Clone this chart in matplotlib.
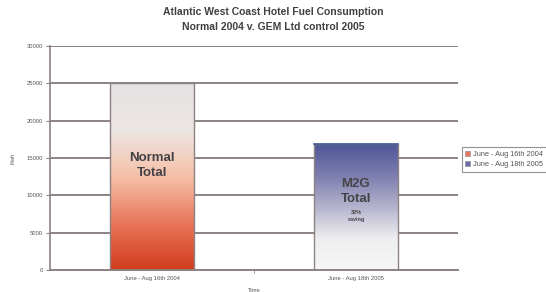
import numpy as np
import matplotlib
matplotlib.use("Agg")
import matplotlib.pyplot as plt
from matplotlib.colors import LinearSegmentedColormap
from matplotlib.patches import Patch

plt.rcParams["font.family"] = ["Liberation Sans", "DejaVu Sans"]

# data
periods = ["June - Aug 16th 2004", "June - Aug 18th 2005"]
fuel_use = [25000, 16900]
bar_titles = ["Normal\nTotal", "M2G\nTotal"]
bar_notes = ["", "32%\nsaving"]
yticks = [0, 5000, 10000, 15000, 20000, 25000, 30000]

grid_col = "#8c8282"
cmaps = [
    LinearSegmentedColormap.from_list("red", ["#d23c1c", "#e8765a", "#f6c0a8", "#ece6e4", "#e4e2e2"]),
    LinearSegmentedColormap.from_list("blue", ["#f6f6f6", "#eeeef0", "#b4b2cc", "#7c7cae", "#4c5696"]),
]
title_pos = [0.56, 0.62]

fig = plt.figure(figsize=(5.46, 2.92), dpi=100)
ax = fig.add_axes([50 / 546, 1 - 270 / 292, 408 / 546, 224 / 292])

x = np.arange(len(periods))
bars = ax.bar(x, fuel_use, width=0.41, color="none", edgecolor=grid_col, linewidth=1.0, zorder=3)

grad = np.linspace(0, 1, 256).reshape(-1, 1)
for i, b in enumerate(bars):
    x0, y0 = b.get_x(), b.get_y()
    w, h = b.get_width(), b.get_height()
    im = ax.imshow(grad, extent=[x0, x0 + w, y0, y0 + h], origin="lower", aspect="auto",
                   cmap=cmaps[i], zorder=2)
    im.set_clip_path(b)
    cx = x0 + w / 2
    ax.text(cx, y0 + h * title_pos[i], bar_titles[i], ha="center", va="center", fontsize=9.5,
            fontweight="bold", color="#444448", linespacing=1.3, zorder=4)
    if bar_notes[i]:
        ax.text(cx, y0 + h * 0.43, bar_notes[i], ha="center", va="center", fontsize=4,
                fontweight="bold", color="#444448", linespacing=1.45, zorder=4)

# blue edge on top of second bar
ax.plot([bars[1].get_x(), bars[1].get_x() + bars[1].get_width()], [fuel_use[1], fuel_use[1]],
        color="#3c5a9a", linewidth=1.2, zorder=4)

ax.set_xlim(-0.5, len(periods) - 0.5)
ax.set_ylim(0, 30000)
ax.set_yticks(yticks)
ax.set_yticklabels([str(v) for v in yticks], fontsize=4.2, color="#555555")
ax.set_xticks(x)
ax.set_xticklabels(periods, fontsize=4.2, color="#555555")
ax.set_xticks([0.5], minor=True)
ax.tick_params(axis="x", which="major", length=0, pad=4)
ax.tick_params(axis="x", which="minor", length=2, color=grid_col)
ax.tick_params(axis="y", length=3, color=grid_col, pad=2)

ax.yaxis.grid(True, color=grid_col, linewidth=1.4, zorder=1)
ax.set_axisbelow(True)
for s in ["top", "right"]:
    ax.spines[s].set_visible(False)
ax.spines["left"].set_color(grid_col)
ax.spines["left"].set_linewidth(1.2)
ax.spines["bottom"].set_color(grid_col)
ax.spines["bottom"].set_linewidth(1.4)

ax.set_ylabel("Kwh", fontsize=4.2, color="#555555", labelpad=8)
ax.set_xlabel("Time", fontsize=4.2, color="#555555", labelpad=5)

fig.text(0.5, 1 - 12 / 292, "Atlantic West Coast Hotel Fuel Consumption", ha="center", va="center",
         fontsize=7.5, fontweight="bold", color="#404040")
fig.text(0.5, 1 - 27 / 292, "Normal 2004 v. GEM Ltd control 2005", ha="center", va="center",
         fontsize=7.5, fontweight="bold", color="#404040")

handles = [Patch(facecolor="#e8765a", edgecolor="#888888", linewidth=0.4),
           Patch(facecolor="#6c6ca4", edgecolor="#888888", linewidth=0.4)]
leg = fig.legend(handles, periods, loc="center left", bbox_to_anchor=(462 / 546, 1 - 159.5 / 292),
                 fontsize=5.3, frameon=True, fancybox=False, handlelength=0.7, handleheight=0.7,
                 handletextpad=0.4, borderpad=0.45, labelspacing=0.45, borderaxespad=0)
leg.get_frame().set_edgecolor("#777777")
leg.get_frame().set_linewidth(0.8)
for t in leg.get_texts():
    t.set_color("#555555")

fig.savefig("out.png", dpi=100)
